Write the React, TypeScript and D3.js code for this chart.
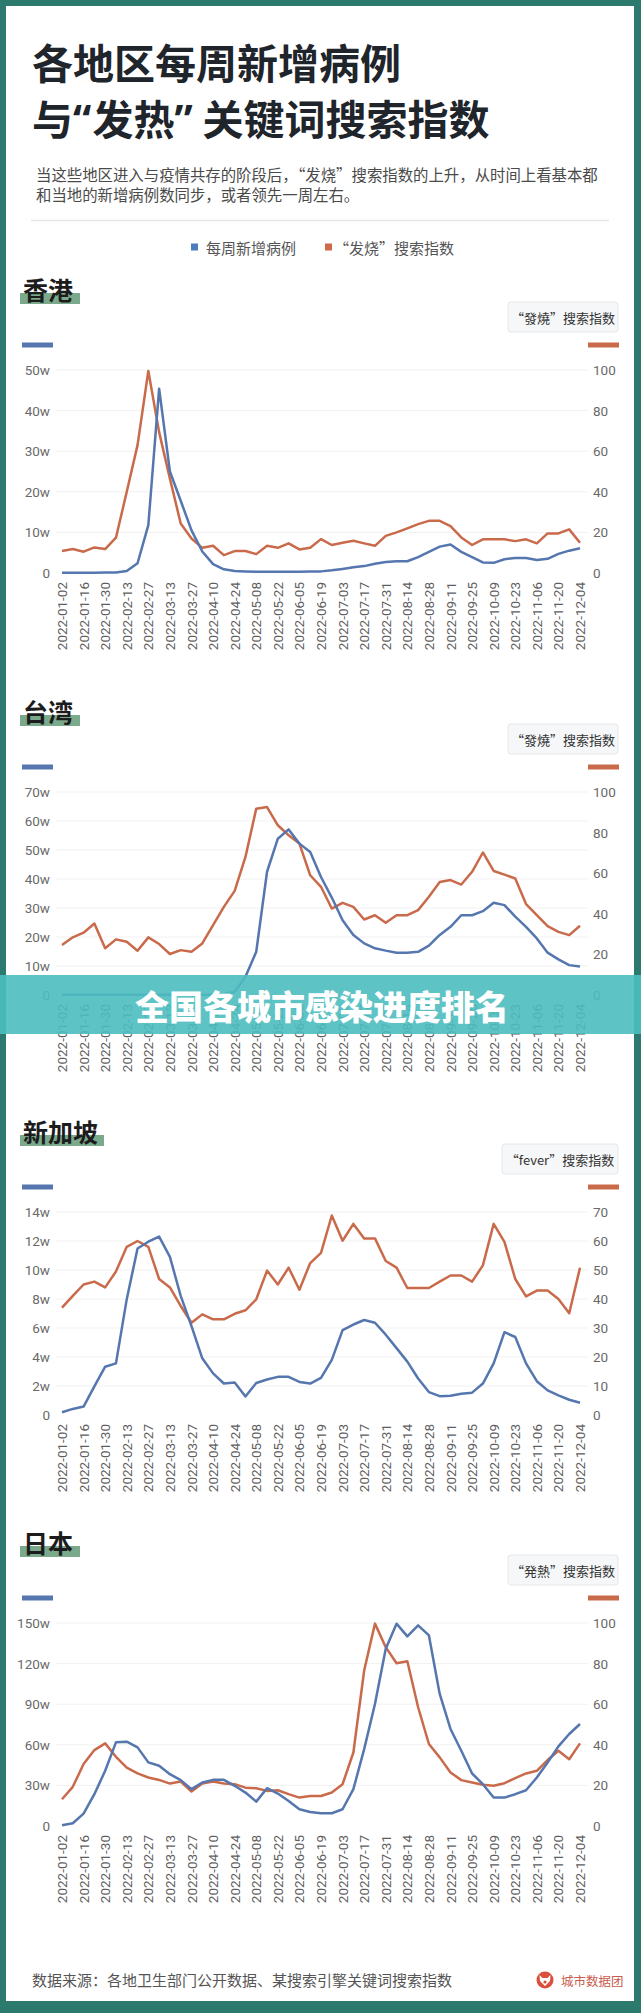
import React from 'react';
import * as d3 from 'd3';

const WEEKS = [
  '2022-01-02','2022-01-09','2022-01-16','2022-01-23','2022-01-30','2022-02-06','2022-02-13','2022-02-20',
  '2022-02-27','2022-03-06','2022-03-13','2022-03-20','2022-03-27','2022-04-03','2022-04-10','2022-04-17',
  '2022-04-24','2022-05-01','2022-05-08','2022-05-15','2022-05-22','2022-05-29','2022-06-05','2022-06-12',
  '2022-06-19','2022-06-26','2022-07-03','2022-07-10','2022-07-17','2022-07-24','2022-07-31','2022-08-07',
  '2022-08-14','2022-08-21','2022-08-28','2022-09-04','2022-09-11','2022-09-18','2022-09-25','2022-10-02',
  '2022-10-09','2022-10-16','2022-10-23','2022-10-30','2022-11-06','2022-11-13','2022-11-20','2022-11-27',
  '2022-12-04'
];

// weekly new cases (unit: 万 / w)
const HK_CASES = [0.05,0.05,0.05,0.05,0.1,0.15,0.5,2.4,11.8,45.4,25,17.8,10.5,5.3,2.2,0.9,0.5,0.4,0.3,0.3,0.3,0.3,0.3,0.35,0.4,0.65,1.0,1.4,1.7,2.3,2.7,2.9,2.9,3.9,5.2,6.5,7.0,5.2,3.9,2.6,2.5,3.4,3.7,3.7,3.2,3.5,4.7,5.5,6.1];
const HK_FEVER = [10.8,11.8,10.5,12.6,11.8,17.4,40,63,99.5,69.4,46.5,24.4,17,12.4,13.4,8.8,10.8,10.8,9.3,13.4,12.4,14.6,11.6,12.4,16.7,13.8,14.9,15.9,14.6,13.4,18.3,20,22,24.1,25.7,25.7,23.1,17.5,13.8,16.6,16.6,16.6,15.7,16.6,14.6,19.5,19.5,21.5,14.9];

const TW_CASES = [0.1,0.1,0.1,0.1,0.1,0.1,0.1,0.1,0.1,0.1,0.1,0.1,0.1,0.1,0.15,0.3,1.1,6.3,14.9,42.5,53.9,57.1,52.2,49.3,40.7,33.6,25.8,20.7,17.8,16.1,15.3,14.6,14.6,14.9,17.0,20.7,23.5,27.5,27.5,28.9,31.8,31.0,27.0,23.5,19.5,14.6,12.3,10.3,9.8];
const TW_FEVER = [24.6,28.4,30.7,35.2,23,27.4,26.2,21.8,28.4,25.1,20.2,22.1,21.3,25.4,34.4,43.4,51.3,68,91.8,92.6,83.6,78.7,74.6,59,53.3,42.6,45.4,43.4,37.2,39.3,35.6,39.3,39.3,41.8,48.4,55.7,56.6,54.4,60.7,70.2,61.1,59.3,57.4,44.8,39.3,33.9,31.1,29.5,34.1];

const SG_CASES = [0.19,0.42,0.58,1.98,3.33,3.56,7.99,11.48,11.95,12.3,10.9,8.22,6.13,3.91,2.87,2.17,2.24,1.28,2.21,2.45,2.63,2.63,2.28,2.17,2.56,3.8,5.85,6.24,6.55,6.36,5.54,4.61,3.68,2.52,1.58,1.3,1.33,1.47,1.54,2.17,3.56,5.71,5.38,3.56,2.33,1.7,1.35,1.05,0.84];
const SG_FEVER = [37,41.1,45,46,44,49.5,58,60,58,46.9,44,37.6,31.8,34.7,33,33,34.9,36.1,39.9,49.8,45,50.8,43.2,52.4,55.9,68.8,60.1,65.9,60.9,60.9,53.1,50.8,43.8,43.8,43.8,46,48.1,48.1,46,51.6,65.9,59.7,46.9,40.9,42.9,42.9,40,35.1,50.8];

const JP_CASES = [0.5,2,9.1,23.5,40.8,61.8,62.3,58.1,47,44.5,38.3,33.9,27.2,32.1,34.1,34.1,29.7,24.7,18,27.9,24,18.5,12.4,10.4,9.4,9.4,12.4,27.2,56.8,90.2,131,149.5,140.1,148.3,140.8,97.6,71.7,55.6,38.8,30.9,21,21,23.5,26.4,35.8,46.9,58.8,68,75.4];
const JP_FEVER = [13.2,19.3,30.5,37.4,40.7,34.1,28.8,25.9,23.9,22.7,20.9,21.9,17,20.9,21.9,20.9,20.6,18.9,18.6,17.3,17.6,15.7,14,14.8,14.8,16.5,20.6,36.2,76.6,99.7,88.1,80.2,81.2,58.5,40.4,33.8,26.4,22.6,21.4,20.3,19.8,21.1,23.6,25.9,27.2,32.5,37.1,32.9,40.7];

const HK_LEFT_TICKS = [0,10,20,30,40,50];
const TW_LEFT_TICKS = [0,10,20,30,40,50,60,70];
const SG_LEFT_TICKS = [0,2,4,6,8,10,12,14];
const JP_LEFT_TICKS = [0,30,60,90,120,150];
const RIGHT_TICKS_100 = [0,20,40,60,80,100];
const SG_RIGHT_TICKS = [0,10,20,30,40,50,60,70];

const TITLE_1 = '各地区每周新增病例';
const TITLE_2_PARTS = ['与', '“', '发热', '”', '关键词搜索指数'];
const SUB_1 = '当这些地区进入与疫情共存的阶段后，“发烧”搜索指数的上升，从时间上看基本都';
const SUB_2 = '和当地的新增病例数同步，或者领先一周左右。';
const LEGEND = ['每周新增病例', '“发烧”搜索指数'];
const FOOTER = '数据来源：各地卫生部门公开数据、某搜索引擎关键词搜索指数';
const BANNER = '全国各城市感染进度排名';

const CJK = '"Noto Sans CJK SC", "Noto Sans", sans-serif';
const LATIN = '"Noto Sans", "DejaVu Sans", sans-serif';
const NUM = 'Roboto, "DejaVu Sans", sans-serif';
const BLUE = '#5576ae';
const ORANGE = '#c96a4b';
const TEAL = '#2c7a6e';

type PanelProps = {
  dy: number; name: string; nameW: number; box: string; boxW: number;
  cases: number[]; fever: number[]; leftTicks: number[]; rightTicks: number[];
};

function Panel({ dy, name, nameW, box, boxW, cases, fever, leftTicks, rightTicks }: PanelProps) {
  const x = d3.scalePoint<string>().domain(WEEKS).range([62, 580]);
  const y0 = 573 + dy, y1 = 370 + dy;
  const yL = d3.scaleLinear().domain([0, leftTicks[leftTicks.length - 1]]).range([y0, y1]);
  const yR = d3.scaleLinear().domain([0, rightTicks[rightTicks.length - 1]]).range([y0, y1]);
  const lineL = d3.line<number>().x((_, i) => x(WEEKS[i])!).y(d => yL(d));
  const lineR = d3.line<number>().x((_, i) => x(WEEKS[i])!).y(d => yR(d));
  return (
    <g>
      <rect x={20} y={293 + dy} width={nameW} height={11} fill="#7aa98c" />
      <text x={23} y={300 + dy} fontFamily={CJK} fontSize={25} fontWeight={700} fill="#1c1c1c">{name}</text>
      <rect x={618 - boxW} y={302 + dy} width={boxW} height={30} rx={3} fill="#f6f7f8" stroke="#e4e7ea" />
      <text x={618 - boxW / 2} y={317.5 + dy} textAnchor="middle" dominantBaseline="central" fontFamily={CJK} fontSize={13} fill="#333">{box}</text>
      <rect x={22} y={342.5 + dy} width={31} height={5} fill={BLUE} />
      <rect x={588} y={342.5 + dy} width={31} height={5} fill={ORANGE} />
      {leftTicks.map(t => (
        <g key={'l' + t}>
          {t > 0 && <line x1={56} x2={588} y1={yL(t)} y2={yL(t)} stroke="#f1f1f1" />}
          <text x={50} y={yL(t)} textAnchor="end" dominantBaseline="central" fontFamily={NUM} fontSize={13.5} fill="#6a6a6a">{t === 0 ? '0' : t + 'w'}</text>
        </g>
      ))}
      {rightTicks.map(t => (
        <text key={'r' + t} x={593} y={yR(t)} dominantBaseline="central" fontFamily={NUM} fontSize={13.5} fill="#6a6a6a">{t}</text>
      ))}
      {WEEKS.filter((_, i) => i % 2 === 0).map(w => (
        <text key={w} transform={`translate(${x(w)},${y0 + 9}) rotate(-90)`} textAnchor="end" dominantBaseline="central" fontFamily={NUM} fontSize={13.5} fill="#5e5e5e">{w}</text>
      ))}
      <path d={lineR(fever)!} fill="none" stroke={ORANGE} strokeWidth={2.5} strokeLinejoin="round" />
      <path d={lineL(cases)!} fill="none" stroke={BLUE} strokeWidth={2.5} strokeLinejoin="round" />
    </g>
  );
}

export default function App() {
  const t2x = [32, 73, 92.5, 174.5, 202.5];
  return (
    <div>
      <style>{`body{margin:0;background:#fff}`}</style>
      <svg width={641} height={2013} style={{ display: 'block' }}>
        <rect x={0} y={0} width={641} height={2013} fill={TEAL} />
        <rect x={6} y={6} width={628} height={1995} fill="#ffffff" />
        <text x={32} y={79} fontFamily={CJK} fontSize={41} fontWeight={700} fill="#20242b">{TITLE_1}</text>
        <text y={135} fontFamily={CJK} fontSize={41} fontWeight={700} fill="#20242b">
          {TITLE_2_PARTS.map((p, i) => (
            <tspan key={i} x={t2x[i]} fontFamily={i % 2 === 1 ? LATIN : CJK}>{p}</tspan>
          ))}
        </text>
        <text x={36} y={181} fontFamily={CJK} fontSize={15.4} fill="#4a4a4a">{SUB_1}</text>
        <text x={36} y={201} fontFamily={CJK} fontSize={15.4} fill="#4a4a4a">{SUB_2}</text>
        <line x1={31} x2={609} y1={220.5} y2={220.5} stroke="#e6e6e6" strokeWidth={1.5} />
        <rect x={191} y={243.5} width={7} height={7} fill="#4f7bc0" />
        <text x={206} y={247} dominantBaseline="central" fontFamily={CJK} fontSize={15} fill="#555">{LEGEND[0]}</text>
        <rect x={325} y={243.5} width={7} height={7} fill="#d0694a" />
        <text x={334} y={247} dominantBaseline="central" fontFamily={CJK} fontSize={15} fill="#555">{LEGEND[1]}</text>

        <Panel dy={0} name="香港" nameW={60} box="“發燒”搜索指数" boxW={110} cases={HK_CASES} fever={HK_FEVER} leftTicks={HK_LEFT_TICKS} rightTicks={RIGHT_TICKS_100} />
        <Panel dy={422} name="台湾" nameW={60} box="“發燒”搜索指数" boxW={110} cases={TW_CASES} fever={TW_FEVER} leftTicks={TW_LEFT_TICKS} rightTicks={RIGHT_TICKS_100} />
        <Panel dy={842} name="新加坡" nameW={84} box="“fever”搜索指数" boxW={116} cases={SG_CASES} fever={SG_FEVER} leftTicks={SG_LEFT_TICKS} rightTicks={SG_RIGHT_TICKS} />
        <Panel dy={1253} name="日本" nameW={60} box="“発熱”搜索指数" boxW={110} cases={JP_CASES} fever={JP_FEVER} leftTicks={JP_LEFT_TICKS} rightTicks={RIGHT_TICKS_100} />

        <text x={32} y={1985.5} fontFamily={CJK} fontSize={15} fill="#555">{FOOTER}</text>
        <circle cx={545} cy={1980} r={8.5} fill="#d9503f" />
        <path d="M539.5,1975 L542.5,1978 L547.5,1978 L550.5,1975 L550,1981 L545,1986 L540,1981 Z" fill="#fff" />
        <circle cx={545} cy={1982} r={1.6} fill="#d9503f" />
        <text x={561} y={1980} dominantBaseline="central" fontFamily={CJK} fontSize={12.5} fill="#c95a4e">城市数据团</text>

        <rect x={0} y={975} width={641} height={59} fill="#4dbcbf" opacity={0.9} />
        <text x={322} y={1005} textAnchor="middle" dominantBaseline="central" fontFamily={CJK} fontSize={34} fontWeight={900} fill="#ffffff">{BANNER}</text>
      </svg>
    </div>
  );
}
